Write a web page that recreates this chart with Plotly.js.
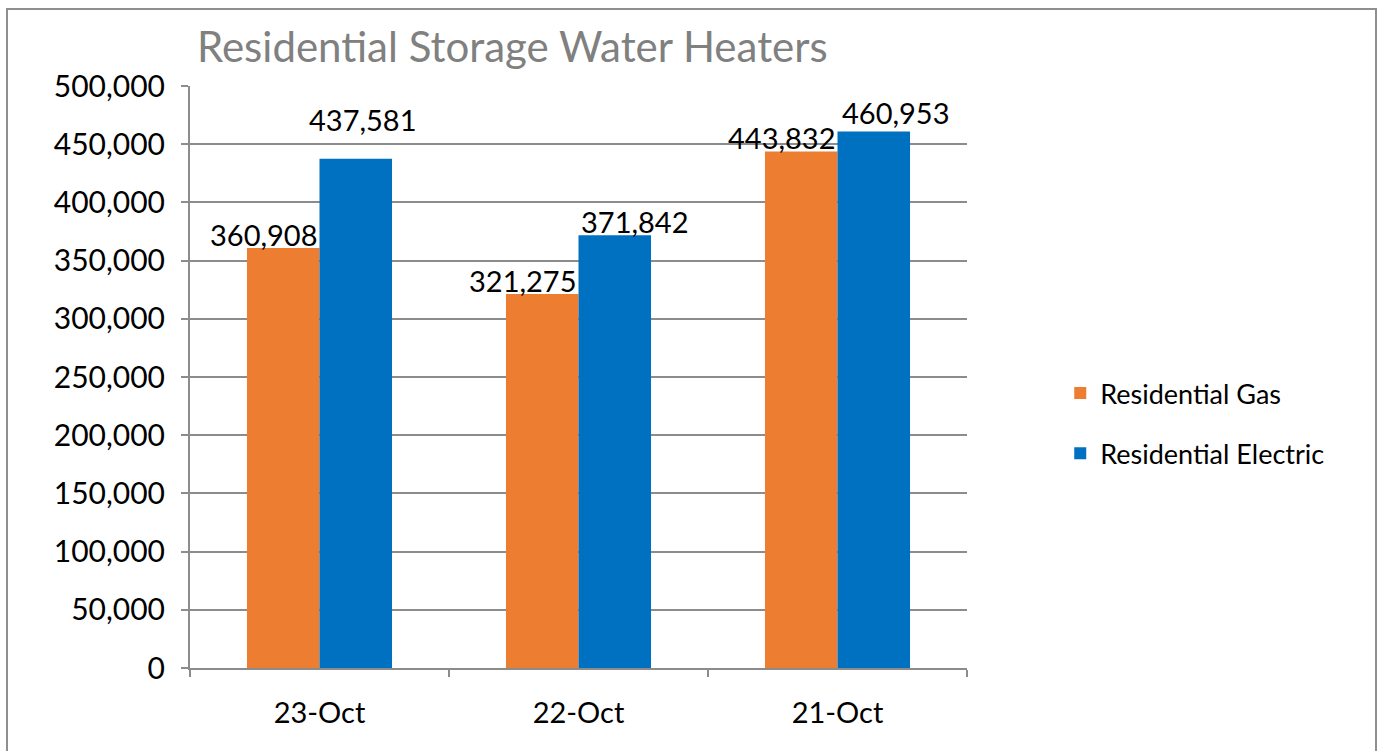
<!DOCTYPE html>
<html>
<head>
<meta charset="utf-8">
<script src="https://cdn.plot.ly/plotly-3.0.1.min.js"></script>
<style>
html,body{margin:0;padding:0;background:#fff;}
#chart{width:1381px;height:751px;position:absolute;left:0;top:0;}
#frame{position:absolute;left:6px;top:8px;width:1367px;height:760px;border:2px solid #8f8f8f;pointer-events:none;}
</style>
</head>
<body>
<div id="chart"></div>
<div id="frame"></div>
<script>
const categories = ["23-Oct", "22-Oct", "21-Oct"];
const gasValues = [360908, 321275, 443832];
const electricValues = [437581, 371842, 460953];
const seriesNames = ["Residential Gas", "Residential Electric"];
const titleText = "Residential Storage Water Heaters";

const fontFam = "Lato, 'Open Sans', 'Noto Sans', sans-serif";
const fmt = v => v.toLocaleString('en-US');

// label placement style (pixel nudges, as the source chart nudged its labels)
const gasLabelStyle = {xanchor:'right', xshift:[0,0,0], yshift:[-6,-6,-6]};
const elecLabelStyle = {xanchor:'left', xshift:[-13,0,2], yshift:[20,-6,-1]};

const traces = [
  {type:'bar', name:seriesNames[0], legendgroup:'g', x:categories, y:gasValues,
   marker:{color:'#ED7D31'}, hoverinfo:'y'},
  {type:'bar', name:seriesNames[1], legendgroup:'e', x:categories, y:electricValues,
   marker:{color:'#0070C0'}, hoverinfo:'y'}
];

function labels(vals, st) {
  return vals.map((v, i) => ({
    x: categories[i], y: v, xref:'x', yref:'y', text: fmt(v), showarrow:false,
    xanchor: st.xanchor, yanchor:'bottom', xshift: st.xshift[i], yshift: st.yshift[i],
    font:{size:29, color:'#000', family:fontFam}
  }));
}

const layout = {
  width:1381, height:751,
  margin:{l:190, r:414, t:86, b:83},
  paper_bgcolor:'rgba(0,0,0,0)', plot_bgcolor:'#fff',
  font:{family:fontFam, color:'#000'},
  title:{text:titleText, x:197/1381, xanchor:'left', y:1-47/751, yanchor:'middle',
         font:{size:42, color:'#808080', family:fontFam}},
  barmode:'group', bargap:0.44, bargroupgap:0,
  showlegend:true,
  legend:{x:1.12, xanchor:'left', y:0.42, yanchor:'middle', font:{size:27, color:'#000'},
          tracegroupgap:22, traceorder:'grouped'},
  annotations: labels(gasValues, gasLabelStyle).concat(labels(electricValues, elecLabelStyle)),
  xaxis:{type:'category', tickson:'boundaries', ticks:'outside', ticklen:7, tickcolor:'#8c8c8c', tickwidth:2,
         showline:true, linecolor:'#8c8c8c', linewidth:2, showgrid:false, ticklabelstandoff:18,
         tickfont:{size:29, color:'#000'}, fixedrange:true},
  yaxis:{range:[0,500000], dtick:50000, tickformat:',d', ticks:'outside', ticklen:7,
         tickcolor:'#8c8c8c', tickwidth:2, showline:true, linecolor:'#8c8c8c', linewidth:2,
         showgrid:true, gridcolor:'#8c8c8c', gridwidth:2, zeroline:false, ticklabelstandoff:10,
         tickfont:{size:30, color:'#000'}, fixedrange:true}
};

Plotly.newPlot('chart', traces, layout, {displayModeBar:false, staticPlot:true});
</script>
</body>
</html>
